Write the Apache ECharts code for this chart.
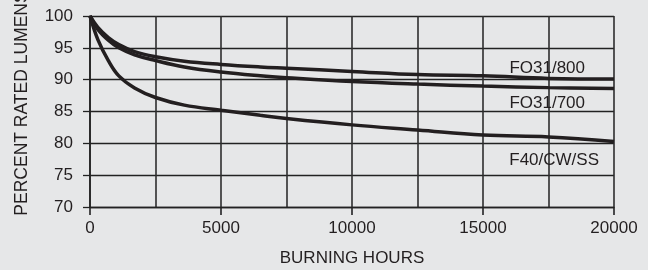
<!DOCTYPE html>
<html>
<head>
<meta charset="utf-8">
<script src="https://cdn.jsdelivr.net/npm/echarts@6/dist/echarts.min.js"></script>
<style>
  html, body { margin: 0; padding: 0; background: #e6e7e8; }
  #chart { width: 648px; height: 270px; }
</style>
</head>
<body>
<div id="chart"></div>
<script>
  const hours = [0, 300, 700, 1100, 1700, 2500, 3600, 5000, 6500, 7500, 10000, 12500, 15000, 17500, 20000]
  const fo31_800 = [100, 98.2, 96.6, 95.5, 94.4, 93.6, 92.9, 92.4, 92.0, 91.8, 91.3, 90.8, 90.6, 90.2, 90.1]
  const fo31_700 = [100, 97.9, 96.2, 95.0, 93.9, 93.0, 92.0, 91.2, 90.6, 90.3, 89.7, 89.3, 89.0, 88.75, 88.6]
  const f40 = [100, 96.3, 93.0, 90.6, 88.7, 87.2, 86.0, 85.2, 84.4, 83.9, 82.9, 82.1, 81.3, 81.0, 80.3]
  const seriesNames = ['FO31/800', 'FO31/700', 'F40/CW/SS']

  const ink = '#231f20'
  const font = 'Liberation Sans, Arial, sans-serif'

  let pairs = (ys) => hours.map((h, i) => [h, ys[i]])

  let lineSeries = (name, ys, off) => ({
    name: name,
    type: 'line',
    data: pairs(ys),
    smooth: 0.4,
    showSymbol: false,
    lineStyle: { color: ink, width: 3.5 },
    endLabel: {
      show: true,
      formatter: name,
      align: 'right',
      verticalAlign: 'middle',
      offset: off,
      color: ink,
      fontSize: 17,
      fontFamily: font
    }
  })

  let chart = echarts.init(document.getElementById('chart'))
  const option = {
    backgroundColor: '#e6e7e8',
    animation: false,
    grid: { left: 90, right: 34, top: 16, bottom: 63, outerBoundsMode: 'none', containLabel: false },
    xAxis: {
      type: 'value',
      min: 0,
      max: 20000,
      interval: 5000,
      name: 'BURNING HOURS',
      nameLocation: 'middle',
      nameGap: 43,
      nameTextStyle: { color: ink, fontSize: 17, fontFamily: font },
      axisLine: { show: true, lineStyle: { color: '#222', width: 1.3 } },
      axisTick: { show: true, length: 8, lineStyle: { color: '#222', width: 1.6 } },
      axisLabel: { color: ink, fontSize: 17, fontFamily: font, margin: 13, formatter: (v) => String(v) },
      splitLine: { show: true, lineStyle: { color: '#2e2e2e', width: 1.6 } },
      minorTick: { show: false, splitNumber: 2 },
      minorSplitLine: { show: true, lineStyle: { color: '#2e2e2e', width: 1.6 } }
    },
    yAxis: {
      type: 'value',
      min: 70,
      max: 100,
      interval: 5,
      name: 'PERCENT RATED LUMENS',
      nameLocation: 'middle',
      nameGap: 59,
      nameTextStyle: { color: ink, fontSize: 17.5, fontFamily: font, padding: [0, 0, 0, 16] },
      axisLine: { show: true, lineStyle: { color: '#222', width: 1.6 } },
      axisTick: { show: true, length: 7, lineStyle: { color: '#222', width: 1.3 } },
      axisLabel: { color: ink, fontSize: 17, fontFamily: font, margin: 17 },
      splitLine: { show: true, lineStyle: { color: '#222', width: 1.3 } }
    },
    series: [
      lineSeries(seriesNames[0], fo31_800, [-37, -11]),
      lineSeries(seriesNames[1], fo31_700, [-37, 15]),
      lineSeries(seriesNames[2], f40, [-23, 19])
    ]
  }

  // draw
  chart.setOption(option)
  window.onresize = () => {
    chart.resize()
  }
</script>
</body>
</html>
